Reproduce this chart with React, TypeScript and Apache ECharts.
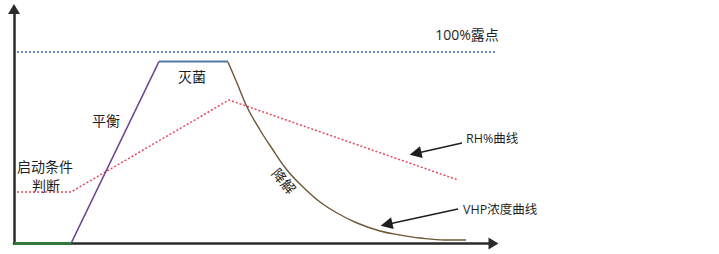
import React, { useEffect, useRef } from "react";
import * as echarts from "echarts";

// coordinates in chart units (x: time, y: level)
const startPhase = [[0, 0], [57, 0]];
const balancePhase = [[57, 0], [145, 182]];
const sterilPhase = [[145, 182], [214, 182]];
const degradePhase = [
  [214, 181.5], [223, 160.5], [233, 136.5], [246, 113.5], [257, 96.5],
  [273, 73.5], [289, 56.5], [306, 41.5], [323, 30.5], [343, 20.5],
  [366, 12.5], [386, 8.5], [406, 5.5], [431, 3.5], [452, 3.5],
];
const rhCurve = [[3, 51.5], [57, 51.5], [215, 143.5], [444, 63.5]];
const dewPoint = [[3, 191.5], [486, 191.5]];
const rhArrow = [[448, 100.5], [401.5, 90]];
const vhpArrow = [[444, 34.5], [372.5, 19]];

const FONT = "'Open Sans','Noto Sans CJK SC',sans-serif";

export default function App() {
  const ref = useRef<HTMLDivElement>(null);
  useEffect(() => {
    const chart = echarts.init(ref.current!, null, { renderer: "svg" });
    const txt = (
      x: number,
      y: number,
      text: string,
      size = 14,
      align = "center",
      extra: any = {}
    ) => ({
      type: "text",
      x,
      y,
      ...extra,
      style: {
        text,
        fontSize: size,
        fontFamily: FONT,
        fill: "#1f1f1f",
        align,
        verticalAlign: "middle",
      },
    });
    chart.setOption({
      animation: false,
      grid: { left: 14, right: 225.5, top: 9, bottom: 10.5 },
      xAxis: {
        type: "value",
        min: 0,
        max: 479.5,
        axisLine: {
          show: true,
          lineStyle: { color: "#2b2b2b", width: 2.5 },
          symbol: ["none", "triangle"],
          symbolSize: [12, 10],
        },
        axisTick: { show: false },
        axisLabel: { show: false },
        splitLine: { show: false },
      },
      yAxis: {
        type: "value",
        min: 0,
        max: 234.5,
        axisLine: {
          show: true,
          lineStyle: { color: "#2b2b2b", width: 2.5 },
          symbol: ["none", "triangle"],
          symbolSize: [12, 10],
        },
        axisTick: { show: false },
        axisLabel: { show: false },
        splitLine: { show: false },
      },
      series: [
        {
          type: "line", data: dewPoint, showSymbol: false, clip: false,
          lineStyle: { color: "#3a6cc0", width: 1.3, type: [2, 2] },
        },
        {
          type: "line", data: rhCurve, showSymbol: false, clip: false,
          lineStyle: { color: "#e8455e", width: 1.5, type: [2, 2] },
        },
        {
          type: "line", data: balancePhase, showSymbol: false, clip: false,
          lineStyle: { color: "#6d3f92", width: 1.6 },
        },
        {
          type: "line", data: sterilPhase, showSymbol: false, clip: false,
          lineStyle: { color: "#4f7aa8", width: 2 },
        },
        {
          type: "line", data: degradePhase, showSymbol: false, clip: false, smooth: 0.4,
          lineStyle: { color: "#6e5634", width: 1.4 },
        },
        {
          type: "line", data: startPhase, showSymbol: false, clip: false,
          lineStyle: { color: "#2f7a3c", width: 3.2 },
        },
        {
          type: "lines", coordinateSystem: "cartesian2d", clip: false,
          symbol: ["none", "triangle"], symbolSize: [11, 12],
          lineStyle: { color: "#1e1e1e", width: 1.4, opacity: 1 },
          data: [{ coords: rhArrow }, { coords: vhpArrow }],
        },
      ],
      graphic: [
        txt(467, 34, "100%露点"),
        txt(192, 76, "灭菌"),
        txt(106, 120, "平衡"),
        txt(45, 166.5, "启动条件"),
        txt(46, 185, "判断"),
        txt(284, 181, "降解", 14, "center", { rotation: (-50 * Math.PI) / 180 }),
        txt(466, 138, "RH%曲线", 12.5, "left"),
        txt(463, 209, "VHP浓度曲线", 12.5, "left"),
      ],
    });
    return () => chart.dispose();
  }, []);
  return (
    <div
      ref={ref}
      style={{ position: "fixed", left: 0, top: 0, width: 719, height: 254, background: "#fff" }}
    />
  );
}
